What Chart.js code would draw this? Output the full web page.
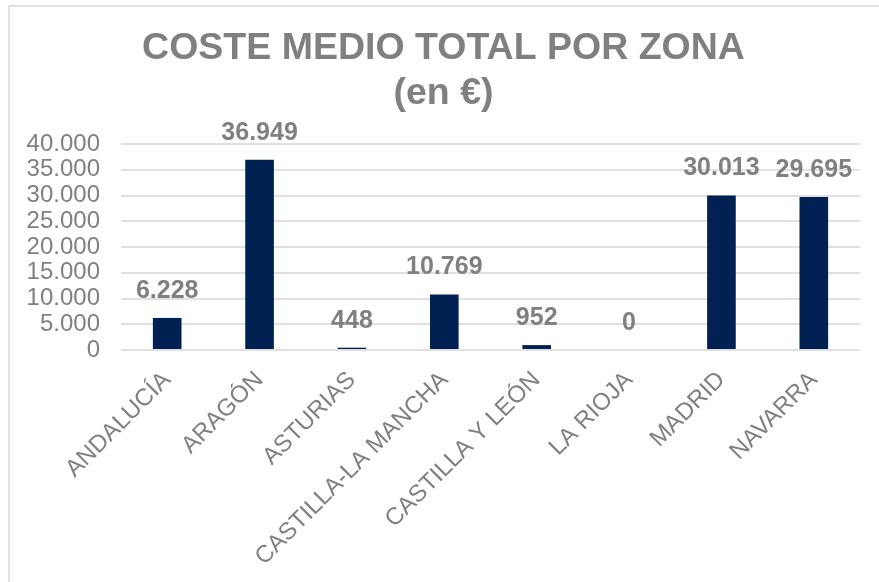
<!DOCTYPE html>
<html lang="es">
<head>
<meta charset="utf-8">
<title>Coste medio total por zona</title>
<script src="https://cdn.jsdelivr.net/npm/chart.js@4"></script>
<style>
  html, body { margin: 0; padding: 0; background: #fff; }
  #wrap { width: 879px; height: 582px; position: relative; }
</style>
</head>
<body>
<div id="wrap"><canvas id="costeChart" width="879" height="582"></canvas></div>
<script>
// Coste medio total por zona (en €)
const zonas = ["ANDALUCÍA", "ARAGÓN", "ASTURIAS", "CASTILLA-LA MANCHA", "CASTILLA Y LEÓN", "LA RIOJA", "MADRID", "NAVARRA"];
const costes = [6228, 36949, 448, 10769, 952, 0, 30013, 29695];
const tituloLineas = ["COSTE MEDIO TOTAL POR ZONA", "(en €)"];

const FUENTE = "'Liberation Sans', Arial, sans-serif";
const GRIS = "#808080";

// miles con punto: 36949 -> 36.949
function miles(v) {
  return String(v).replace(/\B(?=(\d{3})+(?!\d))/g, ".");
}

// marco gris claro alrededor
const marco = {
  id: "marco",
  beforeDraw(chart) {
    const c = chart.ctx;
    c.save();
    c.fillStyle = "#e3e3e3";
    c.fillRect(8, 5, 2, chart.height - 5);
    c.fillRect(8, 5, chart.width - 8, 2);
    c.restore();
  }
};

// etiquetas de valor encima de cada barra
const etiquetas = {
  id: "etiquetas",
  afterDatasetsDraw(chart) {
    const c = chart.ctx;
    const meta = chart.getDatasetMeta(0);
    c.save();
    c.font = "bold 25px " + FUENTE;
    c.fillStyle = GRIS;
    c.textAlign = "center";
    c.textBaseline = "middle";
    meta.data.forEach((bar, i) => {
      c.fillText(miles(costes[i]), bar.x, bar.y - 27);
    });
    c.restore();
  }
};

const ctx = document.getElementById("costeChart").getContext("2d");
new Chart(ctx, {
  type: "bar",
  data: {
    labels: zonas,
    datasets: [{
      data: costes,
      backgroundColor: "#002152",
      borderWidth: 0,
      barPercentage: 0.31,
      categoryPercentage: 1
    }]
  },
  options: {
    responsive: false,
    animation: false,
    layout: { padding: { left: 27, right: 19, top: 0, bottom: 0 } },
    scales: {
      y: {
        min: 0,
        max: 40000,
        ticks: {
          stepSize: 5000,
          autoSkip: false,
          padding: 21,
          color: GRIS,
          font: { family: FUENTE, size: 24 },
          callback: v => miles(v)
        },
        grid: { color: "#e0e0e0", lineWidth: 2, drawTicks: false },
        border: { display: false },
        // ancho justo: etiqueta + separación
        afterFit(scale) {
          scale.width = 94;
        }
      },
      x: {
        ticks: {
          minRotation: 45,
          maxRotation: 45,
          autoSkip: false,
          padding: 8,
          color: GRIS,
          font: { family: FUENTE, size: 24 }
        },
        grid: { display: false },
        border: { display: false },
        // alto fijo para las etiquetas inclinadas, sin margen lateral extra
        afterFit(scale) {
          scale.height = 232;
          scale.paddingLeft = 0;
          scale.paddingRight = 0;
        }
      }
    },
    plugins: {
      legend: { display: false },
      tooltip: { enabled: false },
      title: {
        display: true,
        text: tituloLineas,
        color: GRIS,
        font: { family: FUENTE, size: 37.5, weight: "bold", lineHeight: 1.2 },
        padding: { top: 26, bottom: 28 }
      }
    }
  },
  plugins: [marco, etiquetas]
});
</script>
</body>
</html>
